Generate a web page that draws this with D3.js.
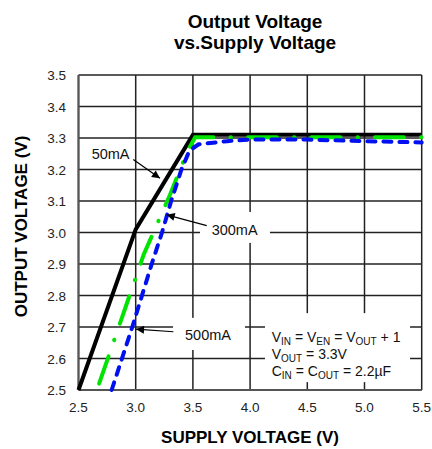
<!DOCTYPE html>
<html>
<head>
<meta charset="utf-8">
<script src="https://cdn.jsdelivr.net/npm/d3@7"></script>
<style>
  html, body { margin: 0; padding: 0; background: #fff; }
  svg { display: block; font-family: "Liberation Sans", Arial, sans-serif; }
</style>
</head>
<body>
<svg id="chart" width="432" height="449"></svg>
<script>
// ---- data ----
const xTicks = [2.5, 3.0, 3.5, 4.0, 4.5, 5.0, 5.5];
const yTicks = [2.5, 2.6, 2.7, 2.8, 2.9, 3.0, 3.1, 3.2, 3.3, 3.4, 3.5];

const load50mA_vin  = [2.5, 3.0, 3.5, 5.5];
const load50mA_vout = [2.5, 3.01, 3.31, 3.31];

const load300mA_vin  = [2.68, 2.88, 3.07, 3.30, 3.41, 3.47, 3.52, 5.5];
const load300mA_vout = [2.52, 2.73, 2.93, 3.12, 3.22, 3.27, 3.302, 3.302];

const load500mA_vin  = [2.79, 2.97, 3.14, 3.23, 3.31, 3.40, 3.47, 3.55, 3.8, 4.0, 4.5, 5.0, 5.5];
const load500mA_vout = [2.50, 2.70, 2.90, 3.00, 3.10, 3.20, 3.26, 3.28, 3.29, 3.295, 3.295, 3.29, 3.286];

const titleLines = ["Output Voltage", "vs.Supply Voltage"];
const xTitle = "SUPPLY VOLTAGE (V)";
const yTitle = "OUTPUT VOLTAGE (V)";

// ---- layout ----
const svg = d3.select("#chart");
const x = d3.scaleLinear().domain([2.5, 5.5]).range([78.5, 421.7]);
const y = d3.scaleLinear().domain([2.5, 3.5]).range([390, 75]);

// title
svg.append("text")
  .attr("x", 255).attr("text-anchor", "middle")
  .attr("font-weight", "bold").attr("font-size", 19)
  .selectAll("tspan").data(titleLines).join("tspan")
  .attr("x", 255).attr("y", (d, i) => 28 + i * 21)
  .text(d => d);

// grid
const grid = svg.append("g").attr("stroke", "#222").attr("stroke-width", 1.5);
grid.selectAll("line.v").data(xTicks).join("line")
  .attr("x1", d => x(d)).attr("x2", d => x(d))
  .attr("y1", y(3.5)).attr("y2", y(2.5));
grid.selectAll("line.h").data(yTicks).join("line")
  .attr("y1", d => y(d)).attr("y2", d => y(d))
  .attr("x1", x(2.5)).attr("x2", x(5.5));
// left/bottom frame (greyish)
svg.append("line").attr("x1", x(2.5)).attr("x2", x(2.5)).attr("y1", y(3.5)).attr("y2", y(2.5))
  .attr("stroke", "#555").attr("stroke-width", 2);
svg.append("line").attr("x1", x(2.5)).attr("x2", x(5.5)).attr("y1", y(2.5)).attr("y2", y(2.5))
  .attr("stroke", "#555").attr("stroke-width", 2);

// tick labels
svg.append("g").selectAll("text").data(xTicks).join("text")
  .attr("x", d => x(d)).attr("y", 411.5)
  .attr("text-anchor", "middle").attr("font-size", 13.5).attr("fill", "#222")
  .text(d => d.toFixed(1));
svg.append("g").selectAll("text").data(yTicks).join("text")
  .attr("x", 66).attr("y", d => y(d) + 5)
  .attr("text-anchor", "end").attr("font-size", 13.5).attr("fill", "#222")
  .text(d => d.toFixed(1));

// axis titles
svg.append("text").attr("x", 250).attr("y", 443)
  .attr("text-anchor", "middle").attr("font-weight", "bold").attr("font-size", 17)
  .text(xTitle);
svg.append("text").attr("transform", "translate(27,226.5) rotate(-90)")
  .attr("text-anchor", "middle").attr("font-weight", "bold").attr("font-size", 17)
  .text(yTitle);

// white annotation boxes (data units)
const boxes = [
  [3.562, 4.174, 3.065, 2.967],
  [3.326, 3.955, 2.729, 2.627],
  [4.130, 5.398, 2.744, 2.525]
];
svg.append("g").selectAll("rect").data(boxes).join("rect")
  .attr("x", d => x(d[0])).attr("width", d => x(d[1]) - x(d[0]))
  .attr("y", d => y(d[2])).attr("height", d => y(d[3]) - y(d[2]))
  .attr("fill", "#fff");

// data lines
const line = d3.line().x(d => x(d[0])).y(d => y(d[1]));
const zip = (a, b) => a.map((v, i) => [v, b[i]]);

svg.append("path").datum(zip(load50mA_vin, load50mA_vout))
  .attr("d", line).attr("fill", "none").attr("stroke", "#000")
  .attr("stroke-width", 4).attr("stroke-linejoin", "miter");

svg.append("path").datum(zip(load300mA_vin, load300mA_vout))
  .attr("d", line).attr("fill", "none").attr("stroke", "#00e400")
  .attr("stroke-width", 4).attr("stroke-linecap", "round")
  .attr("stroke-dasharray", "29,17,0.5,17");

svg.append("path").datum(zip(load500mA_vin, load500mA_vout))
  .attr("d", line).attr("fill", "none").attr("stroke", "#0010f0")
  .attr("stroke-width", 4).attr("stroke-linecap", "round")
  .attr("stroke-dasharray", "8,8");

// annotations: labels with arrows
svg.append("defs").append("marker")
  .attr("id", "arrow").attr("viewBox", "0 0 10 10")
  .attr("refX", 10).attr("refY", 5)
  .attr("markerWidth", 12).attr("markerHeight", 8)
  .attr("markerUnits", "userSpaceOnUse")
  .attr("orient", "auto")
  .append("path").attr("d", "M0,0 L10,5 L0,10 z").attr("fill", "#000");

const notes = [
  { label: "50mA",  tx: 2.615, ty: 3.233, ax1: 2.979, ay1: 3.232, ax2: 3.212, ay2: 3.172 },
  { label: "300mA", tx: 3.664, ty: 2.992, ax1: 3.621, ay1: 3.022, ax2: 3.271, ay2: 3.056 },
  { label: "500mA", tx: 3.431, ty: 2.659, ax1: 3.329, ay1: 2.685, ax2: 3.003, ay2: 2.693 }
];
const ng = svg.append("g");
ng.selectAll("text").data(notes).join("text")
  .attr("x", d => x(d.tx)).attr("y", d => y(d.ty))
  .attr("font-size", 14.5).attr("fill", "#111")
  .text(d => d.label);
ng.selectAll("line").data(notes).join("line")
  .attr("x1", d => x(d.ax1)).attr("y1", d => y(d.ay1))
  .attr("x2", d => x(d.ax2)).attr("y2", d => y(d.ay2))
  .attr("stroke", "#000").attr("stroke-width", 1.2)
  .attr("marker-end", "url(#arrow)");

// conditions text
const condLines = [
  [["V", 0], ["IN", 1], [" = V", 0], ["EN", 1], [" = V", 0], ["OUT", 1], [" + 1", 0]],
  [["V", 0], ["OUT", 1], [" = 3.3V", 0]],
  [["C", 0], ["IN", 1], [" = C", 0], ["OUT", 1], [" = 2.2µF", 0]]
];
const condX = x(4.189);
const cond = svg.append("g").attr("fill", "#111");
condLines.forEach((parts, i) => {
  const baseY = 341.5 + i * 17;
  const t = cond.append("text").attr("x", condX).attr("y", baseY).attr("font-size", 14);
  parts.forEach(([s, sub]) => {
    t.append("tspan")
      .attr("font-size", sub ? 10 : 14)
      .attr("baseline-shift", sub ? "-3" : null)
      .text(s);
  });
});
</script>
</body>
</html>
